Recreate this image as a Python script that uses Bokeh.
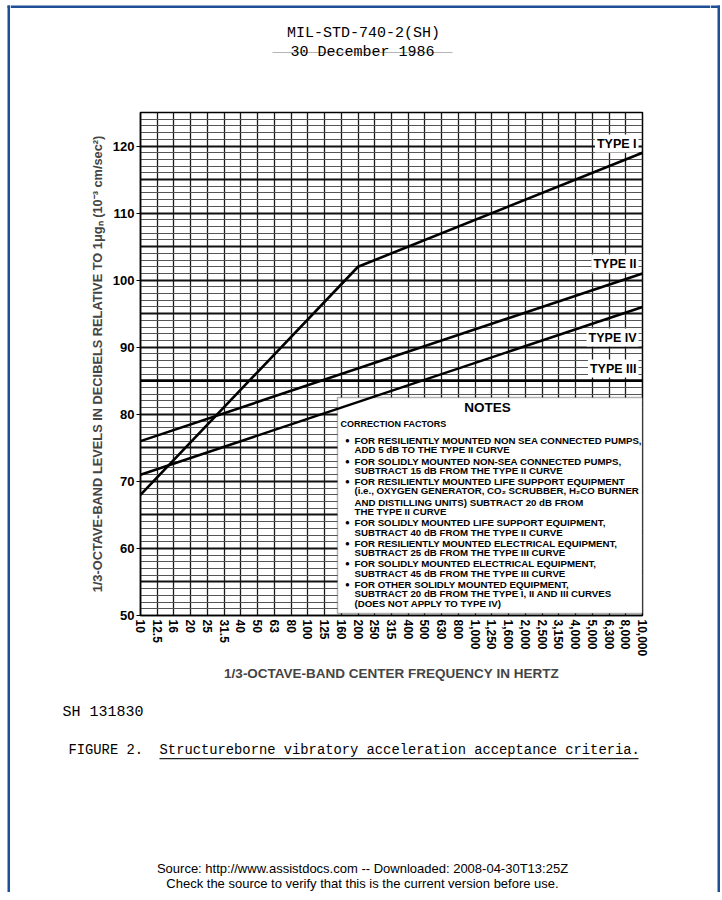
from bokeh.plotting import figure
from bokeh.layouts import column, row
from bokeh.models import Range1d, FixedTicker, Label, BoxAnnotation, ColumnDataSource
from bokeh.embed import file_html
from bokeh.resources import INLINE

# ---------------- data ----------------
bands = ["10", "12.5", "16", "20", "25", "31.5", "40", "50", "63", "80", "100",
         "125", "160", "200", "250", "315", "400", "500", "630", "800", "1,000",
         "1,250", "1,600", "2,000", "2,500", "3,150", "4,000", "5,000", "6,300",
         "8,000", "10,000"]
y_ticks = [50, 60, 70, 80, 90, 100, 110, 120]

type1_bands = ["10", "200", "10,000"]
type1_db = [68, 102, 119]
type2_bands = ["10", "10,000"]
type2_db = [76, 101]
type3_bands = ["10", "10,000"]
type3_db = [85, 85]
type4_bands = ["10", "10,000"]
type4_db = [71, 96]

type_labels = ["TYPE I", "TYPE II", "TYPE IV", "TYPE III"]

notes = [
    ("b", "FOR RESILIENTLY MOUNTED NON SEA CONNECTED PUMPS,"),
    ("t", "ADD 5 dB TO THE TYPE II CURVE"),
    ("b", "FOR SOLIDLY MOUNTED NON-SEA CONNECTED PUMPS,"),
    ("t", "SUBTRACT 15 dB FROM THE TYPE II CURVE"),
    ("b", "FOR RESILIENTLY MOUNTED LIFE SUPPORT EQUIPMENT"),
    ("t", "(i.e., OXYGEN GENERATOR, CO\u2082 SCRUBBER, H\u2082CO BURNER"),
    ("t", "AND DISTILLING UNITS) SUBTRACT 20 dB FROM"),
    ("t", "THE TYPE II CURVE"),
    ("b", "FOR SOLIDLY MOUNTED LIFE SUPPORT EQUIPMENT,"),
    ("t", "SUBTRACT 40 dB FROM THE TYPE II CURVE"),
    ("b", "FOR RESILIENTLY MOUNTED ELECTRICAL EQUIPMENT,"),
    ("t", "SUBTRACT 25 dB FROM THE TYPE III CURVE"),
    ("b", "FOR SOLIDLY MOUNTED ELECTRICAL EQUIPMENT,"),
    ("t", "SUBTRACT 45 dB FROM THE TYPE III CURVE"),
    ("b", "FOR OTHER SOLIDLY MOUNTED EQUIPMENT,"),
    ("t", "SUBTRACT 20 dB FROM THE TYPE I, II AND III CURVES"),
    ("t", "(DOES NOT APPLY TO TYPE IV)"),
]

SANS = "Liberation Sans"
MONO = "Liberation Mono"
BLUE = "#1d4f96"
NBSP = "\u00a0"

# ---------------- page layout constants (window pixels) ----------------
PAGE_W = 720
PAGE_B = 892
SIDE_W = 10                      # left strip 0..10, right strip 710..720
MID_L, MID_R = SIDE_W, PAGE_W - SIDE_W
HEAD_H = 104
MAIN_TOP = 104
FRAME_L, FRAME_R = 140, 642
FRAME_T, FRAME_B = 112, 615
MAIN_BOTTOM = 690


def page_fig(x0, x1, y0, y1, bg="white"):
    # data y = -(window y), so everything is placed in window pixels
    f = figure(width=int(x1 - x0), height=int(y1 - y0), x_range=Range1d(x0, x1),
               y_range=Range1d(-y1, -y0), x_axis_location=None,
               y_axis_location=None, min_border=0, output_backend="svg",
               toolbar_location=None, background_fill_color=bg, title=None,
               border_fill_color=bg, outline_line_color=None)
    f.frame_align = False
    f.grid.visible = False
    return f


def label(f, text, x, y, size, font=SANS, style="bold", align="left",
          color="black", bg=None, pad=0):
    f.add_layout(Label(x=x, y=y, text=text, text_font=font,
                       text_font_size=f"{size}px", text_font_style=style,
                       text_align=align, text_baseline="middle",
                       text_color=color, background_fill_color=bg,
                       background_fill_alpha=1.0 if bg else 0.0, padding=pad))


def plabel(f, text, X, Y, size, **kw):
    label(f, text, X, -Y, size, **kw)


def bar(f, l, r, t, b, color):
    f.quad(left=[l], right=[r], top=[-t], bottom=[-b], fill_color=color,
           line_color=None)


# ---------------- side strips (blue page edges) ----------------
left = page_fig(0, SIDE_W, 0, PAGE_B)
bar(left, 7, 9.5, 5, PAGE_B, BLUE)
bar(left, 7, SIDE_W, 5, 7.5, BLUE)
right = page_fig(MID_R, PAGE_W, 0, PAGE_B)
bar(right, 717, 720, 5, PAGE_B, BLUE)
bar(right, MID_R, 720, 5, 7.5, BLUE)

# ---------------- header ----------------
head = page_fig(MID_L, MID_R, 0, HEAD_H)
bar(head, MID_L, MID_R, 5, 7.5, BLUE)
bar(head, 272, 452, 51.6, 52.6, "#b5b5b5")
plabel(head, "MIL-STD-740-2(SH)", 363, 33, 15, font=MONO, style="normal", align="center")
plabel(head, "30 December 1986", 362, 52, 15, font=MONO, style="normal", align="center")

# ---------------- main chart ----------------
p = figure(frame_width=FRAME_R - FRAME_L, frame_height=FRAME_B - FRAME_T,
           min_border_left=FRAME_L - MID_L, min_border_right=MID_R - FRAME_R,
           min_border_top=FRAME_T - MAIN_TOP, min_border_bottom=MAIN_BOTTOM - FRAME_B,
           x_range=Range1d(0, len(bands) - 1), y_range=Range1d(50, 125),
           output_backend="svg", toolbar_location=None, title=None,
           background_fill_color="white", border_fill_color="white")
p.frame_align = False


def DX(X):
    return (X - FRAME_L) / (FRAME_R - FRAME_L) * (len(bands) - 1)


def DY(Y):
    return 50 + (FRAME_B - Y) / (FRAME_B - FRAME_T) * 75


p.xgrid.ticker = FixedTicker(ticks=list(range(len(bands))))
p.xgrid.grid_line_color = "#1a1a1a"
p.xgrid.grid_line_width = 1.3
p.ygrid.ticker = FixedTicker(ticks=list(range(50, 126, 5)),
                             minor_ticks=list(range(50, 126)))
p.ygrid.grid_line_color = "#111111"
p.ygrid.grid_line_width = 1.8
p.ygrid.minor_grid_line_color = "#555555"
p.ygrid.minor_grid_line_width = 1.0
p.outline_line_color = "black"
p.outline_line_width = 1.5

xa = p.xaxis[0]
xa.ticker = FixedTicker(ticks=list(range(len(bands))))
xa.major_label_overrides = {i: b for i, b in enumerate(bands)}
xa.major_label_orientation = "vertical"
xa.major_tick_in = 0
xa.major_tick_out = 0
xa.minor_tick_line_color = None
xa.axis_line_width = 1.5
xa.major_label_standoff = 4
xa.major_label_text_font = SANS
xa.major_label_text_font_style = "bold"
xa.major_label_text_font_size = "12px"
xa.major_label_text_color = "black"
xa.axis_label = "1/3-OCTAVE-BAND CENTER FREQUENCY IN HERTZ"
xa.axis_label_text_font = SANS
xa.axis_label_text_font_style = "bold"
xa.axis_label_text_font_size = "13.5px"
xa.axis_label_standoff = 7

ya = p.yaxis[0]
ya.ticker = FixedTicker(ticks=y_ticks)
ya.major_tick_in = 0
ya.major_tick_out = 4
ya.minor_tick_line_color = None
ya.axis_line_width = 1.5
ya.major_label_standoff = 2
ya.major_label_text_font = SANS
ya.major_label_text_font_style = "bold"
ya.major_label_text_font_size = "13px"
ya.major_label_text_color = "black"
ya.axis_label = "1/3-OCTAVE-BAND LEVELS IN DECIBELS RELATIVE TO 1\u03bcg\u2099 (10\u207b\u00b3 cm/sec\u00b2)"
ya.axis_label_text_font = SANS
ya.axis_label_text_font_style = "bold"
ya.axis_label_text_font_size = "12.8px"
ya.axis_label_standoff = 5

# notes panel (white, covers grid, under curves)
p.add_layout(BoxAnnotation(left=DX(337), right=len(bands) - 1,
                           bottom=DY(613), top=DY(397),
                           fill_color="white", fill_alpha=1.0,
                           line_color="black", line_width=1.5,
                           level="underlay"))

for bl, db in [(type1_bands, type1_db), (type2_bands, type2_db),
               (type3_bands, type3_db), (type4_bands, type4_db)]:
    src = ColumnDataSource(dict(x=[bands.index(b) for b in bl], y=db))
    p.line("x", "y", source=src, line_color="black", line_width=2.6)


def put(text, X, Y, size, **kw):
    label(p, text, DX(X), DY(Y), size, **kw)


for t, Y in zip(type_labels, [143, 263, 337, 368]):
    put(t, 638, Y, 12.5, align="right", bg="white", pad=2)

put("NOTES", 487, 407, 13.5, align="center")
put("CORRECTION FACTORS", 340, 423, 9)
note_y = [440, 449, 461, 470, 481, 490, 502, 511, 522, 532, 543, 552, 563, 573,
          584, 593, 603]
for (kind, txt), Y in zip(notes, note_y):
    if kind == "b":
        put("\u25cf", 347, Y, 8, align="center")
    put(txt, 354, Y, 9.7)

# ---------------- footer ----------------
foot = page_fig(MID_L, MID_R, MAIN_BOTTOM, PAGE_B)
plabel(foot, "SH" + NBSP + "131830", 62, 712, 15, font=MONO, style="normal")
plabel(foot, "FIGURE 2." + NBSP * 2 + "Structureborne vibratory acceleration acceptance criteria.",
       68, 750, 13.8, font=MONO, style="normal")
bar(foot, 159, 638, 757.6, 758.8, "#222222")
plabel(foot, "Source: http://www.assistdocs.com -- Downloaded: 2008-04-30T13:25Z",
       362, 868, 13, style="normal", align="center")
plabel(foot, "Check the source to verify that this is the current version before use.",
       362, 883, 13, style="normal", align="center")

page = row(left, column(head, p, foot, spacing=0), right, spacing=0)
open("out.html", "w").write(file_html(page, INLINE))
